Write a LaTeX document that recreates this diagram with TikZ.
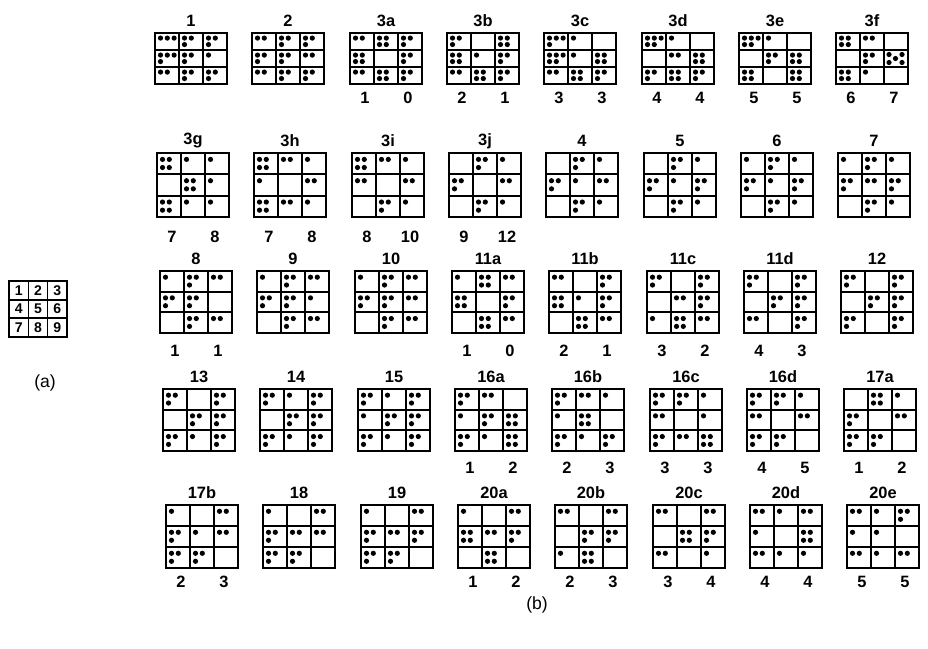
\documentclass[tikz,border=0pt]{standalone}
\usepackage{fontspec}
\setmainfont{Liberation Sans}
\usetikzlibrary{positioning}

\tikzset{
  gridrule/.style={line width=1.6pt},
  gridsep/.style={line width=1pt},
  gridtitle/.style={font=\bfseries\fontsize{14}{16}\selectfont, inner sep=0pt},
  gridnum/.style={font=\bfseries\fontsize{14}{16}\selectfont, inner sep=0pt},
  panelname/.style={font=\fontsize{15}{17}\selectfont, inner sep=0pt},
  keynum/.style={font=\bfseries\fontsize{12}{14}\selectfont, inner sep=0pt}
}

% #1 name, #2 left, #3 top, #4 height, #5 title, #6 dots per cell (upper/lower)
\newcommand{\dotgrid}[6]{%
  \node[gridtitle] (#1-title) at ({#2+36},{#3-12}) {#5};
  \draw[gridrule] (#2,#3) rectangle ++(72,#4);
  \draw[gridrule] (#2,{#3+#4/3}) -- ++(72,0) (#2,{#3+2*#4/3}) -- ++(72,0);
  \draw[gridsep] ({#2+24},#3) -- ++(0,#4) ({#2+48},#3) -- ++(0,#4);
  \foreach \up/\lo [count=\k from 0] in {#6}{
    \pgfmathtruncatemacro{\cc}{mod(\k,3)}
    \pgfmathtruncatemacro{\rr}{\k/3}
    \ifnum\up>0
      \foreach \i in {1,...,\up}
        \fill ({#2+24*\cc+5.5+6.8*(\i-1)},{#3+(\rr+0.3)*#4/3}) circle (2.6);
    \fi
    \ifnum\lo>0
      \foreach \i in {1,...,\lo}
        \fill ({#2+24*\cc+5.5+6.8*(\i-1)},{#3+(\rr+0.68)*#4/3}) circle (2.6);
    \fi
  }
}
% #1 name, #2 left, #3 y, #4 left number, #5 right number
\newcommand{\gridnums}[5]{%
  \node[gridnum] (#1-l) at ({#2+15},#3) {#4};
  \node[gridnum] (#1-r) at ({#2+58},#3) {#5};
}

\begin{document}
\begin{tikzpicture}[x=0.03cm, y=-0.03cm]
  \useasboundingbox (0,0) rectangle (928,649);

  % (a) cell numbering
  \draw[gridrule] (9,281) rectangle (67,337);
  \draw[gridrule] (9,299.7) -- (67,299.7) (9,318.3) -- (67,318.3);
  \draw[gridsep] (28.3,281) -- (28.3,337) (47.7,281) -- (47.7,337);
  \foreach \n [count=\k from 0] in {1,...,9}{
    \pgfmathtruncatemacro{\cc}{mod(\k,3)}
    \pgfmathtruncatemacro{\rr}{\k/3}
    \node[keynum] (key-\n) at ({18.7+19.3*\cc},{290.3+18.7*\rr}) {\n};
  }
  \node[panelname] (panel-a) at (45,383) {(a)};

  % Row 1
  \dotgrid{g1}{155}{33}{51}{1}{3/0,2/1,2/1, 3/1,2/1,1/0, 2/0,2/1,2/1}
  \dotgrid{g2}{252}{33}{51}{2}{2/0,2/1,2/1, 2/1,2/1,2/0, 2/0,2/1,2/1}
  \dotgrid{g3a}{350}{33}{51}{3a}{2/0,2/2,2/1, 2/2,0/0,2/1, 2/0,2/2,2/1}
  \dotgrid{g3b}{447}{33}{51}{3b}{2/1,0/0,2/2, 2/2,1/0,2/1, 2/0,2/2,2/1}
  \dotgrid{g3c}{544}{33}{51}{3c}{3/1,1/0,0/0, 3/2,1/0,2/2, 2/0,2/2,2/1}
  \dotgrid{g3d}{642}{33}{51}{3d}{3/2,1/0,0/0, 0/0,2/0,2/2, 2/1,2/2,2/1}
  \dotgrid{g3e}{739}{33}{51}{3e}{3/2,1/0,0/0, 0/0,2/1,2/2, 2/2,0/0,2/2}
  \dotgrid{g3f}{836}{33}{51}{3f}{2/2,2/0,0/0, 0/0,2/1,0/0, 2/2,1/0,0/0}
  \foreach \dx/\dy in {5/4.5,18/4.5,11.5/8.5,5/12.5,18/12.5}
    \fill ({884+\dx},{50+\dy}) circle (2.6);
  \gridnums{g3a}{350}{98}{1}{0}
  \gridnums{g3b}{447}{98}{2}{1}
  \gridnums{g3c}{544}{98}{3}{3}
  \gridnums{g3d}{642}{98}{4}{4}
  \gridnums{g3e}{739}{98}{5}{5}
  \gridnums{g3f}{836}{98}{6}{7}

  % Row 2
  \dotgrid{g3g}{157}{153}{64}{3g}{2/2,1/0,1/0, 0/0,2/2,1/0, 2/2,1/0,1/0}
  \dotgrid{g3h}{254}{153}{64}{3h}{2/2,2/0,1/0, 1/0,0/0,2/0, 2/2,2/0,1/0}
  \dotgrid{g3i}{352}{153}{64}{3i}{2/2,2/0,1/0, 2/0,0/0,2/0, 0/0,2/1,1/0}
  \dotgrid{g3j}{449}{153}{64}{3j}{0/0,2/1,1/0, 2/1,0/0,2/0, 0/0,2/1,1/0}
  \dotgrid{g4}{546}{153}{64}{4}{0/0,2/1,1/0, 2/1,1/0,2/0, 0/0,2/1,1/0}
  \dotgrid{g5}{644}{153}{64}{5}{0/0,2/1,1/0, 2/1,1/0,2/1, 0/0,2/1,1/0}
  \dotgrid{g6}{741}{153}{64}{6}{1/0,2/1,1/0, 2/1,1/0,2/1, 0/0,2/1,1/0}
  \dotgrid{g7}{838}{153}{64}{7}{1/0,2/1,1/0, 2/1,2/0,2/1, 0/0,2/1,1/0}
  \gridnums{g3g}{157}{237}{7}{8}
  \gridnums{g3h}{254}{237}{7}{8}
  \gridnums{g3i}{352}{237}{8}{10}
  \gridnums{g3j}{449}{237}{9}{12}

  % Row 3
  \dotgrid{g8}{160}{271}{62}{8}{1/0,2/1,2/0, 2/1,2/1,0/0, 0/0,2/1,2/0}
  \dotgrid{g9}{257}{271}{62}{9}{1/0,2/1,2/0, 2/1,2/1,1/0, 0/0,2/1,2/0}
  \dotgrid{g10}{355}{271}{62}{10}{1/0,2/1,2/0, 2/1,2/1,2/0, 0/0,2/1,2/0}
  \dotgrid{g11a}{452}{271}{62}{11a}{1/0,2/2,2/0, 2/2,0/0,2/1, 0/0,2/2,2/0}
  \dotgrid{g11b}{549}{271}{62}{11b}{2/0,0/0,2/1, 2/2,1/0,2/1, 0/0,2/2,2/0}
  \dotgrid{g11c}{647}{271}{62}{11c}{2/1,0/0,2/1, 0/0,2/0,2/1, 1/0,2/2,2/0}
  \dotgrid{g11d}{744}{271}{62}{11d}{2/1,0/0,2/1, 0/0,2/1,2/1, 2/0,0/0,2/1}
  \dotgrid{g12}{841}{271}{62}{12}{2/1,0/0,2/1, 0/0,2/1,2/1, 2/1,0/0,2/1}
  \gridnums{g8}{160}{351}{1}{1}
  \gridnums{g11a}{452}{351}{1}{0}
  \gridnums{g11b}{549}{351}{2}{1}
  \gridnums{g11c}{647}{351}{3}{2}
  \gridnums{g11d}{744}{351}{4}{3}

  % Row 4
  \dotgrid{g13}{163}{389}{62}{13}{2/1,0/0,2/1, 0/0,2/1,2/1, 2/1,1/0,2/1}
  \dotgrid{g14}{260}{389}{62}{14}{2/1,1/0,2/1, 0/0,2/1,2/1, 2/1,1/0,2/1}
  \dotgrid{g15}{358}{389}{62}{15}{2/1,1/0,2/1, 1/0,2/1,2/1, 2/1,1/0,2/1}
  \dotgrid{g16a}{455}{389}{62}{16a}{2/1,2/0,0/0, 1/0,2/1,2/2, 2/1,1/0,2/2}
  \dotgrid{g16b}{552}{389}{62}{16b}{2/1,2/0,1/0, 1/0,2/2,0/0, 2/1,1/0,2/1}
  \dotgrid{g16c}{650}{389}{62}{16c}{2/1,2/1,1/0, 2/0,0/0,1/0, 2/1,2/0,2/2}
  \dotgrid{g16d}{747}{389}{62}{16d}{2/1,2/1,1/0, 2/0,0/0,2/0, 2/1,2/1,0/0}
  \dotgrid{g17a}{844}{389}{62}{17a}{0/0,2/2,1/0, 2/1,0/0,2/0, 2/1,2/1,0/0}
  \gridnums{g16a}{455}{468}{1}{2}
  \gridnums{g16b}{552}{468}{2}{3}
  \gridnums{g16c}{650}{468}{3}{3}
  \gridnums{g16d}{747}{468}{4}{5}
  \gridnums{g17a}{844}{468}{1}{2}

  % Row 5
  \dotgrid{g17b}{166}{505}{63}{17b}{1/0,0/0,2/0, 2/1,1/0,2/0, 2/1,2/1,0/0}
  \dotgrid{g18}{263}{505}{63}{18}{1/0,0/0,2/0, 2/1,2/0,2/0, 2/1,2/1,0/0}
  \dotgrid{g19}{361}{505}{63}{19}{1/0,0/0,2/0, 2/1,2/0,2/1, 2/1,2/1,0/0}
  \dotgrid{g20a}{458}{505}{63}{20a}{1/0,0/0,2/0, 2/2,2/0,2/1, 0/0,2/2,0/0}
  \dotgrid{g20b}{555}{505}{63}{20b}{2/0,0/0,2/0, 0/0,2/1,2/1, 1/0,2/2,0/0}
  \dotgrid{g20c}{653}{505}{63}{20c}{2/0,0/0,2/0, 0/0,2/2,2/1, 2/0,0/0,1/0}
  \dotgrid{g20d}{750}{505}{63}{20d}{2/0,1/0,2/0, 1/0,0/0,2/2, 2/0,1/0,1/0}
  \dotgrid{g20e}{847}{505}{63}{20e}{2/0,1/0,2/1, 1/0,1/0,0/0, 2/0,1/0,2/0}
  \gridnums{g17b}{166}{582}{2}{3}
  \gridnums{g20a}{458}{582}{1}{2}
  \gridnums{g20b}{555}{582}{2}{3}
  \gridnums{g20c}{653}{582}{3}{4}
  \gridnums{g20d}{750}{582}{4}{4}
  \gridnums{g20e}{847}{582}{5}{5}

  \node[panelname] (panel-b) at (537,605) {(b)};
\end{tikzpicture}
\end{document}
